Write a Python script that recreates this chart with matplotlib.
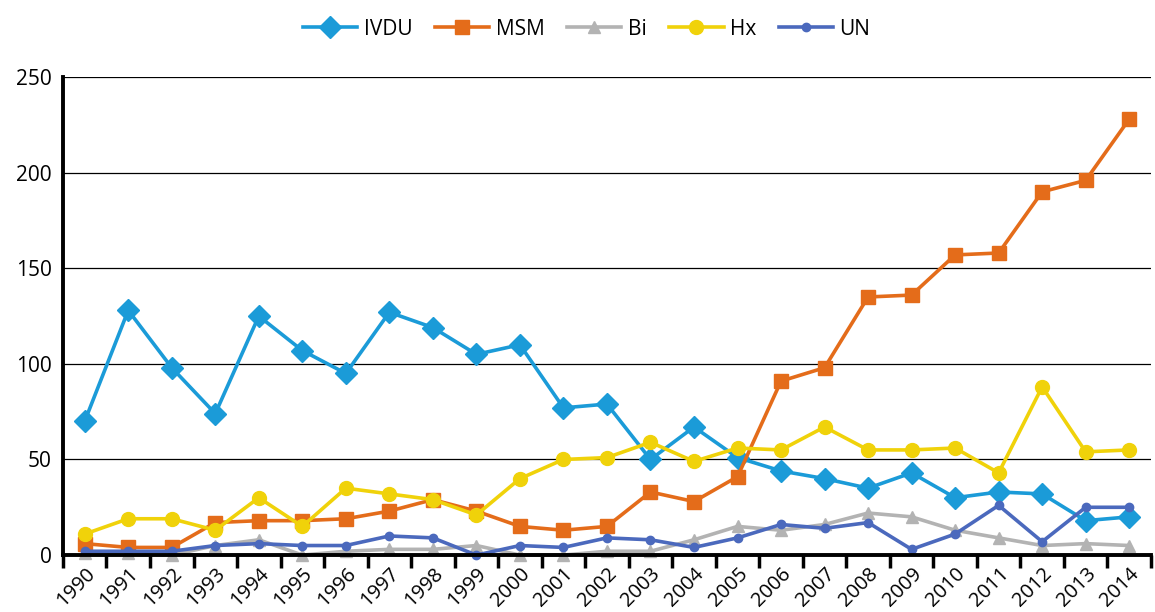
import numpy as np
import matplotlib
matplotlib.use("Agg")
import matplotlib.pyplot as plt
from matplotlib.transforms import ScaledTranslation

years = list(range(1990, 2015))

ivdu = [70, 128, 98, 74, 125, 107, 95, 127, 119, 105, 110, 77, 79, 50, 67,
        51, 44, 40, 35, 43, 30, 33, 32, 18, 20]
msm = [6, 4, 4, 17, 18, 18, 19, 23, 29, 23, 15, 13, 15, 33, 28,
       41, 91, 98, 135, 136, 157, 158, 190, 196, 228]
bi = [1, 1, 0, 5, 8, 0, 2, 3, 3, 5, 0, 0, 2, 2, 8,
      15, 13, 16, 22, 20, 13, 9, 5, 6, 5]
hx = [11, 19, 19, 13, 30, 15, 35, 32, 29, 21, 40, 50, 51, 59, 49,
      56, 55, 67, 55, 55, 56, 43, 88, 54, 55]
un = [2, 2, 2, 5, 6, 5, 5, 10, 9, 0, 5, 4, 9, 8, 4,
      9, 16, 14, 17, 3, 11, 26, 7, 25, 25]

plt.rcParams['font.family'] = ['Open Sans', 'DejaVu Sans']

fig = plt.figure(figsize=(11.55, 6.12), dpi=100)
ax = fig.add_axes([0.0545, 0.093, 0.942, 0.781])

x = np.arange(len(years))

series = [
    ("IVDU", ivdu, '#1b9bd8', 'D', 11),
    ("MSM", msm, '#e46c1a', 's', 10),
    ("Bi", bi, '#b3b3b3', '^', 8),
    ("Hx", hx, '#f0d20a', 'o', 10),
    ("UN", un, '#4b69bd', 'o', 6),
]
for name, vals, col, mk, ms in series:
    ax.plot(x, vals, color=col, marker=mk, markersize=ms, linewidth=2.6,
            label=name, clip_on=False)

ax.set_xlim(-0.5, len(years) - 0.5)
ax.set_ylim(0, 250)
ax.set_yticks([0, 50, 100, 150, 200, 250])
ax.yaxis.grid(True, color='black', linewidth=0.9)
ax.set_axisbelow(True)

ax.set_xticks(x)
ax.set_xticklabels([str(y) for y in years], rotation=45, ha='right',
                   rotation_mode='anchor')
shift = ScaledTranslation(14 / 100, 0, fig.dpi_scale_trans)
for lab in ax.get_xticklabels():
    lab.set_transform(lab.get_transform() + shift)
ax.set_xticks(np.arange(-0.5, len(years)), minor=True)
ax.tick_params(axis='x', which='major', length=0, pad=6, labelsize=14.5)
ax.tick_params(axis='x', which='minor', length=9, width=2.5, direction='out')
ax.tick_params(axis='y', length=0, labelsize=15, pad=8)

for s in ['top', 'right']:
    ax.spines[s].set_visible(False)
ax.spines['left'].set_linewidth(2.8)
ax.spines['bottom'].set_linewidth(2.8)

fig.legend(loc='upper center', bbox_to_anchor=(0.508, 1.0), ncol=5,
           frameon=False, fontsize=15, handlelength=2.6, columnspacing=1.1,
           handletextpad=0.3)

fig.savefig("out.png", dpi=100)
